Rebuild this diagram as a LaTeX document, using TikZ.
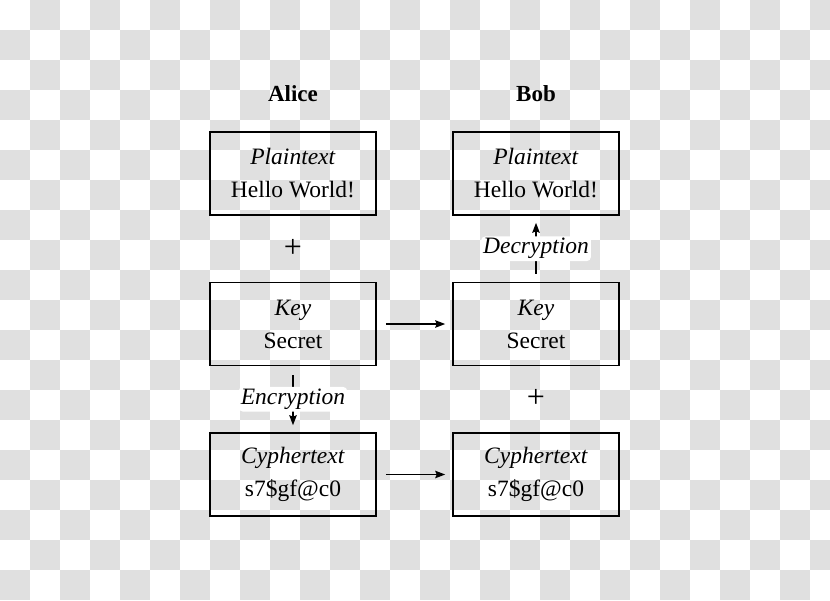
\documentclass[tikz,border=0pt]{standalone}
\usepackage{fontspec}
\setmainfont{Liberation Serif}
\usetikzlibrary{arrows.meta}
\definecolor{checkgray}{RGB}{224,224,224}

\tikzset{
  msgbox/.style={draw, line width=1.6pt, minimum width=166pt, minimum height=83pt,
    inner sep=0pt, align=center, font=\fontsize{23.5}{33}\selectfont},
  who/.style={font=\fontsize{23}{28}\selectfont\bfseries},
  plus/.style={font=\fontsize{32}{34}\selectfont},
  flow/.style={line width=1.4pt, -{Stealth[length=10pt,width=7.5pt,inset=1.5pt]}},
  steplabel/.style={fill=white, rounded corners=4pt, inner sep=2pt,
    font=\fontsize{23.5}{28}\selectfont\itshape}
}

\begin{document}
\begin{tikzpicture}[x=1pt, y=-1pt]
\useasboundingbox (0,0) rectangle (830,600);
\foreach \i in {0,60,...,780}
  \foreach \j in {0,60,...,540}
  {
    \fill[checkgray] (\i+30,\j) rectangle ++(30,30);
    \fill[checkgray] (\i,\j+30) rectangle ++(30,30);
  }

\node[who] (alice) at (293,94) {Alice};
\node[who] (bob) at (536,94) {Bob};

\node[msgbox] (aplain) at (293,173.5) {\textit{Plaintext}\\Hello World!};
\node[msgbox] (akey) at (293,324) {\textit{Key}\\Secret};
\node[msgbox] (acypher) at (293,474.5) {\textit{Cyphertext}\\s7\$gf@c0};

\node[msgbox] (bplain) at (536,173.5) {\textit{Plaintext}\\Hello World!};
\node[msgbox] (bkey) at (536,324) {\textit{Key}\\Secret};
\node[msgbox] (bcypher) at (536,474.5) {\textit{Cyphertext}\\s7\$gf@c0};

\node[plus] (aplus) at (293,248) {+};
\node[plus] (bplus) at (536,398) {+};

\draw[flow, shorten <=9pt, shorten >=7pt] (akey.east) -- (bkey.west);
\draw[flow, shorten <=9pt, shorten >=7pt] (acypher.east) -- (bcypher.west);
\draw[flow, shorten <=9pt, shorten >=7pt] (akey.south) -- (acypher.north)
  node[steplabel, midway] (enc) {Encryption};
\draw[flow, shorten <=8pt, shorten >=7pt] (bkey.north) -- (bplain.south)
  node[steplabel, midway] (dec) {Decryption};
\end{tikzpicture}
\end{document}
